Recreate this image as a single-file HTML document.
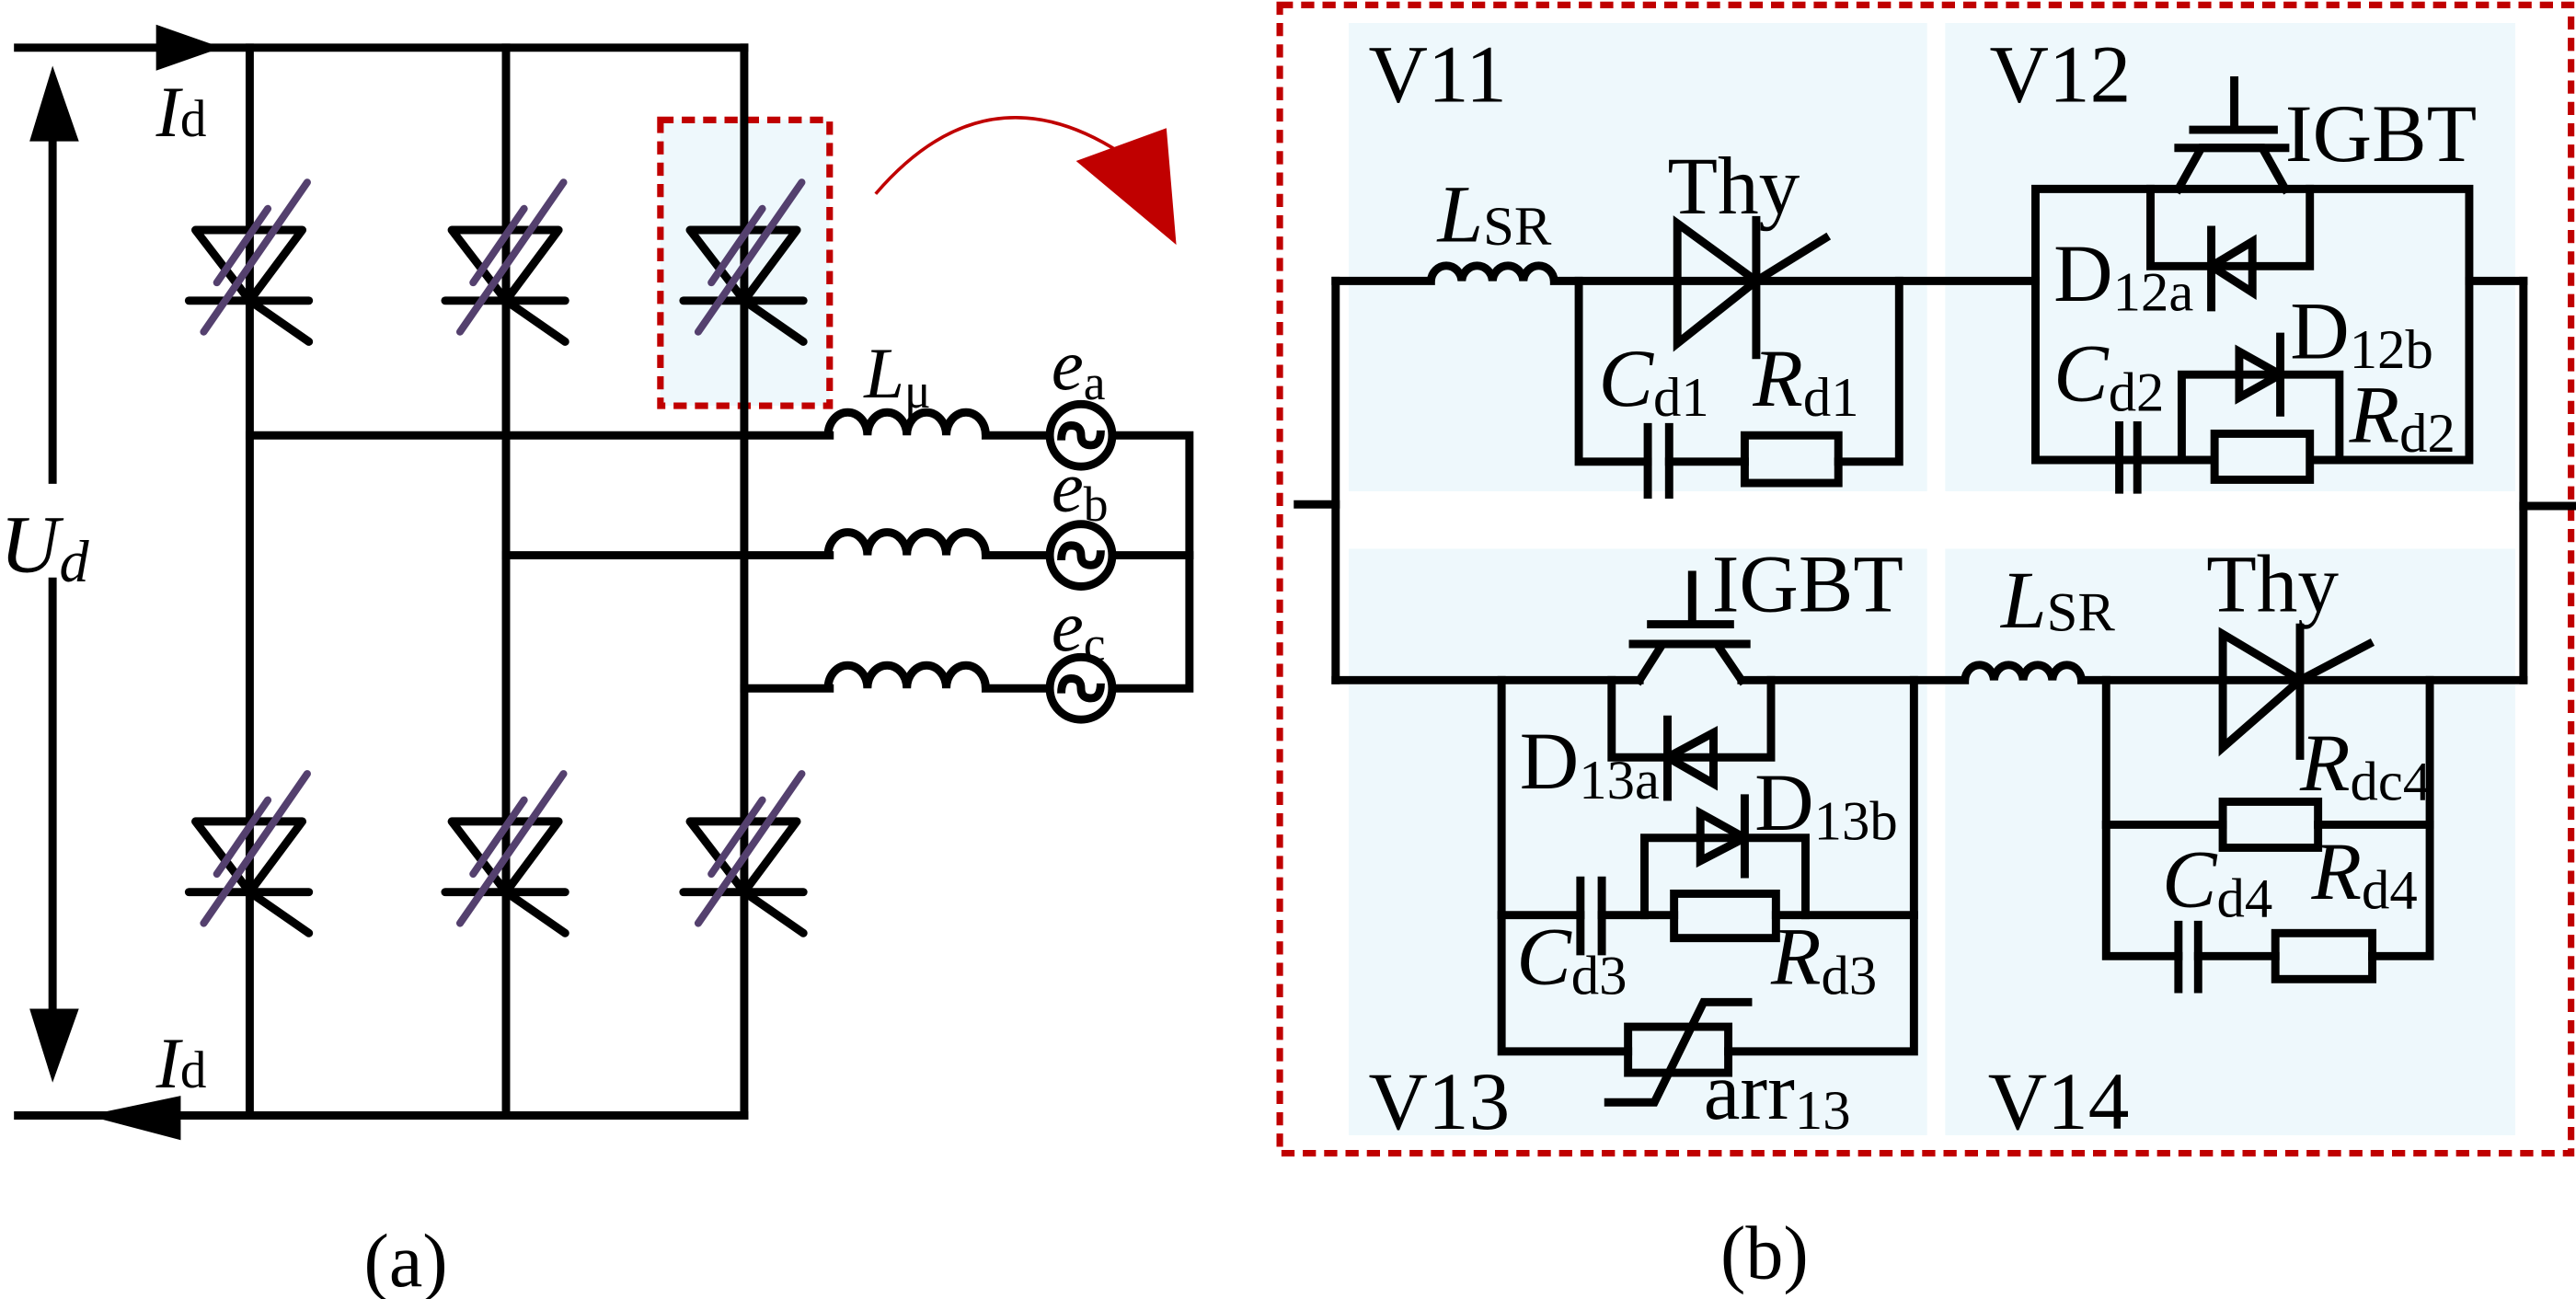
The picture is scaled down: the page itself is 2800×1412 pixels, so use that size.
<!DOCTYPE html>
<html><head><meta charset="utf-8"><style>
html,body{margin:0;padding:0;background:#fff;}
svg{display:block;}
text,tspan{font-family:"Liberation Serif","Times New Roman",serif;}
text{fill:#000;}
.it{font-style:italic;}
</style></head><body>
<svg xmlns="http://www.w3.org/2000/svg" width="2800" height="1412" viewBox="0 0 1568 790.7" font-family="Liberation Serif, serif">
<defs>
<g id="thy">
  <polygon points="-33,0 32,0 0,43" fill="none" stroke="#000" stroke-width="5" stroke-linejoin="round"/>
  <line x1="-37" y1="43" x2="36" y2="43" stroke="#000" stroke-width="5" stroke-linecap="round"/>
  <line x1="0" y1="43" x2="36" y2="68" stroke="#000" stroke-width="5" stroke-linecap="round"/>
  <line x1="-28" y1="62" x2="35" y2="-29" stroke="#54406e" stroke-width="4.5" stroke-linecap="round"/>
  <line x1="-20" y1="32" x2="11" y2="-13" stroke="#54406e" stroke-width="4.5" stroke-linecap="round"/>
</g>
</defs>

<!-- ===== (a) ===== -->
<rect x="402" y="73" width="103" height="174" fill="#eef8fc" stroke="#c00000" stroke-width="4" stroke-dasharray="8,5"/>
<g stroke="#000" stroke-width="5" fill="none" stroke-linecap="square">
  <line x1="11" y1="29" x2="453" y2="29"/>
  <line x1="11" y1="679" x2="453" y2="679"/>
  <line x1="152" y1="29" x2="152" y2="679"/>
  <line x1="308" y1="29" x2="308" y2="679"/>
  <line x1="453" y1="29" x2="453" y2="679"/>
  <line x1="152" y1="265" x2="505" y2="265"/>
  <line x1="308" y1="338" x2="505" y2="338"/>
  <line x1="453" y1="419" x2="505" y2="419"/>
  <line x1="32" y1="80" x2="32" y2="292"/>
  <line x1="32" y1="354" x2="32" y2="614"/>
  <polyline points="678,265 724,265 724,419 678,419"/>
  <line x1="678" y1="338" x2="724" y2="338"/>
  <line x1="600" y1="265" x2="638" y2="265"/>
  <line x1="600" y1="338" x2="638" y2="338"/>
  <line x1="600" y1="419" x2="638" y2="419"/>
</g>
<g stroke="#000" stroke-width="5" fill="none">
  <path d="M504 265 a12 14 0 0 1 24 0 a12 14 0 0 1 24 0 a12 14 0 0 1 24 0 a12 14 0 0 1 24 0"/>
  <path d="M504 338 a12 14 0 0 1 24 0 a12 14 0 0 1 24 0 a12 14 0 0 1 24 0 a12 14 0 0 1 24 0"/>
  <path d="M504 419 a12 14 0 0 1 24 0 a12 14 0 0 1 24 0 a12 14 0 0 1 24 0 a12 14 0 0 1 24 0"/>
  <circle cx="658" cy="265" r="19" fill="#fff"/>
  <circle cx="658" cy="338" r="19" fill="#fff"/>
  <circle cx="658" cy="419" r="19" fill="#fff"/>
  <path d="M646 268 q0 -9 6 -9 q6 0 6 6 q0 6 6 6 q6 0 6 -9"/>
  <path d="M646 341 q0 -9 6 -9 q6 0 6 6 q0 6 6 6 q6 0 6 -9"/>
  <path d="M646 422 q0 -9 6 -9 q6 0 6 6 q0 6 6 6 q6 0 6 -9"/>
</g>
<polygon points="95,15 135,29 95,43" fill="#000"/>
<polygon points="53,679 110,667 110,694" fill="#000"/>
<polygon points="32,40 18,86 48,86" fill="#000"/>
<polygon points="32,659 18,614 48,614" fill="#000"/>
<use href="#thy" x="152" y="140"/>
<use href="#thy" x="308" y="140"/>
<use href="#thy" x="453" y="140"/>
<use href="#thy" x="152" y="500"/>
<use href="#thy" x="308" y="500"/>
<use href="#thy" x="453" y="500"/>
<path d="M533 118 Q600 40 682 93" fill="none" stroke="#c00000" stroke-width="2"/>
<polygon points="655,98 710,78 716,149" fill="#c00000"/>
<text x="95" y="83" font-size="44"><tspan class="it">I</tspan><tspan font-size="32">d</tspan></text>
<text x="95" y="662" font-size="44"><tspan class="it">I</tspan><tspan font-size="32">d</tspan></text>
<text x="0" y="348" font-size="50" class="it">U<tspan font-size="36" dy="6">d</tspan></text>
<text x="526" y="242" font-size="44"><tspan class="it">L</tspan><tspan font-size="30" dy="6">μ</tspan></text>
<text x="640" y="237" font-size="44"><tspan class="it">e</tspan><tspan font-size="30" dy="6">a</tspan></text>
<text x="640" y="311" font-size="44"><tspan class="it">e</tspan><tspan font-size="30" dy="6">b</tspan></text>
<text x="640" y="396" font-size="44"><tspan class="it">e</tspan><tspan font-size="30" dy="6">c</tspan></text>
<text x="247" y="783" font-size="46" text-anchor="middle">(a)</text>

<!-- ===== (b) ===== -->
<rect x="821" y="14" width="352" height="285" fill="#eef8fc"/>
<rect x="1184" y="14" width="347" height="285" fill="#eef8fc"/>
<rect x="821" y="334" width="352" height="357" fill="#eef8fc"/>
<rect x="1184" y="334" width="347" height="357" fill="#eef8fc"/>
<rect x="779" y="3" width="786" height="699" fill="none" stroke="#c00000" stroke-width="4" stroke-dasharray="8,5"/>

<g stroke="#000" stroke-width="5" fill="none" stroke-linecap="square" stroke-linejoin="miter">
  <line x1="813" y1="171" x2="813" y2="414"/>
  <line x1="790" y1="307" x2="813" y2="307"/>
  <line x1="1536" y1="171" x2="1536" y2="414"/>
  <line x1="1536" y1="308" x2="1566" y2="308"/>
  <line x1="813" y1="171" x2="871" y2="171"/>
  <line x1="946" y1="171" x2="1239" y2="171"/>
  <polyline points="961,171 961,281 1003,281"/>
  <line x1="1016" y1="281" x2="1062" y2="281"/>
  <polyline points="1119,281 1156,281 1156,171"/>
  <rect x="1062" y="265" width="57" height="29"/>
  <line x1="1003" y1="260" x2="1003" y2="301"/>
  <line x1="1016" y1="260" x2="1016" y2="301"/>
  <polygon points="1021,136 1021,209 1069,171"/>
  <line x1="1069" y1="134" x2="1069" y2="216"/>
  <line x1="1069" y1="171" x2="1111" y2="145"/>
  <polyline points="1239,171 1239,115 1503,115 1503,280 1239,280 1239,171"/>
  <line x1="1503" y1="171" x2="1536" y2="171"/>
  <polyline points="1309,115 1309,162 1406,162 1406,115"/>
  <polygon points="1346,162 1371,147 1371,178"/>
  <line x1="1346" y1="140" x2="1346" y2="187"/>
  <polyline points="1326,115 1340,90 1377,90 1391,115"/>
  <line x1="1326" y1="90" x2="1391" y2="90"/>
  <line x1="1335" y1="79" x2="1384" y2="79"/>
  <line x1="1360" y1="49" x2="1360" y2="79"/>
  <polyline points="1328,280 1328,228 1424,228 1424,280"/>
  <polygon points="1363,214 1363,242 1388,228"/>
  <line x1="1388" y1="205" x2="1388" y2="251"/>
  <rect x="1348" y="264" width="58" height="28" fill="#eef8fc"/>
  <line x1="1290" y1="259" x2="1290" y2="298"/>
  <line x1="1301" y1="259" x2="1301" y2="298"/>
  <line x1="813" y1="414" x2="998" y2="414"/>
  <polyline points="998,414 1012,392 1045,392 1060,414"/>
  <line x1="994" y1="392" x2="1063" y2="392"/>
  <line x1="1005" y1="380" x2="1053" y2="380"/>
  <line x1="1030" y1="350" x2="1030" y2="380"/>
  <line x1="1060" y1="414" x2="1196" y2="414"/>
  <line x1="1267" y1="414" x2="1536" y2="414"/>
  <polyline points="914,414 914,640 991,640"/>
  <polyline points="1052,640 1165,640 1165,414"/>
  <rect x="991" y="625" width="61" height="28"/>
  <polyline points="979,671 1007,671 1037,610 1064,610"/>
  <polyline points="981,414 981,461 1078,461 1078,414"/>
  <polygon points="1015,461 1043,446 1043,477"/>
  <line x1="1015" y1="438" x2="1015" y2="485"/>
  <line x1="914" y1="557" x2="962" y2="557"/>
  <line x1="975" y1="557" x2="1019" y2="557"/>
  <line x1="1081" y1="557" x2="1165" y2="557"/>
  <line x1="962" y1="536" x2="962" y2="579"/>
  <line x1="975" y1="536" x2="975" y2="579"/>
  <rect x="1019" y="544" width="62" height="27"/>
  <polyline points="1001,557 1001,510 1099,510 1099,557"/>
  <polygon points="1035,495 1035,524 1062,510"/>
  <line x1="1062" y1="486" x2="1062" y2="532"/>
  <polygon points="1353,386 1353,455 1400,414"/>
  <line x1="1400" y1="382" x2="1400" y2="460"/>
  <line x1="1400" y1="414" x2="1442" y2="392"/>
  <polyline points="1282,414 1282,582 1326,582"/>
  <line x1="1338" y1="582" x2="1385" y2="582"/>
  <polyline points="1444,582 1479,582 1479,414"/>
  <line x1="1326" y1="563" x2="1326" y2="602"/>
  <line x1="1338" y1="563" x2="1338" y2="602"/>
  <rect x="1385" y="568" width="59" height="28"/>
  <line x1="1282" y1="502" x2="1353" y2="502"/>
  <line x1="1411" y1="502" x2="1479" y2="502"/>
  <rect x="1353" y="488" width="58" height="28"/>
</g>
<g stroke="#000" stroke-width="5" fill="none">
  <path d="M871 171 a9.4 10 0 0 1 18.75 0 a9.4 10 0 0 1 18.75 0 a9.4 10 0 0 1 18.75 0 a9.4 10 0 0 1 18.75 0"/>
  <path d="M1196 414 a8.9 10 0 0 1 17.75 0 a8.9 10 0 0 1 17.75 0 a8.9 10 0 0 1 17.75 0 a8.9 10 0 0 1 17.75 0"/>
</g>

<g font-size="50">
<text x="833" y="62">V11</text>
<text x="1211" y="62">V12</text>
<text x="833" y="687">V13</text>
<text x="1210" y="687">V14</text>
<text x="875" y="147"><tspan class="it">L</tspan><tspan font-size="34" dy="2">SR</tspan></text>
<text x="1015" y="130">Thy</text>
<text x="973" y="247"><tspan class="it">C</tspan><tspan font-size="34" dy="6">d1</tspan></text>
<text x="1067" y="247"><tspan class="it">R</tspan><tspan font-size="34" dy="6">d1</tspan></text>
<text x="1391" y="98">IGBT</text>
<text x="1250" y="183">D<tspan font-size="34" dy="6">12a</tspan></text>
<text x="1394" y="218">D<tspan font-size="34" dy="6">12b</tspan></text>
<text x="1250" y="244"><tspan class="it">C</tspan><tspan font-size="34" dy="6">d2</tspan></text>
<text x="1430" y="269"><tspan class="it">R</tspan><tspan font-size="34" dy="6">d2</tspan></text>
<text x="1042" y="372">IGBT</text>
<text x="925" y="480">D<tspan font-size="34" dy="6">13a</tspan></text>
<text x="1068" y="505">D<tspan font-size="34" dy="6">13b</tspan></text>
<text x="923" y="599"><tspan class="it">C</tspan><tspan font-size="34" dy="6">d3</tspan></text>
<text x="1078" y="599"><tspan class="it">R</tspan><tspan font-size="34" dy="6">d3</tspan></text>
<text x="1037" y="681">arr<tspan font-size="34" dy="6">13</tspan></text>
<text x="1218" y="382"><tspan class="it">L</tspan><tspan font-size="34" dy="2">SR</tspan></text>
<text x="1343" y="372">Thy</text>
<text x="1400" y="481"><tspan class="it">R</tspan><tspan font-size="34" dy="6">dc4</tspan></text>
<text x="1316" y="552"><tspan class="it">C</tspan><tspan font-size="34" dy="6">d4</tspan></text>
<text x="1407" y="547"><tspan class="it">R</tspan><tspan font-size="34" dy="6">d4</tspan></text>
</g>
<text x="1074" y="778" font-size="46" text-anchor="middle">(b)</text>
</svg>
</body></html>
